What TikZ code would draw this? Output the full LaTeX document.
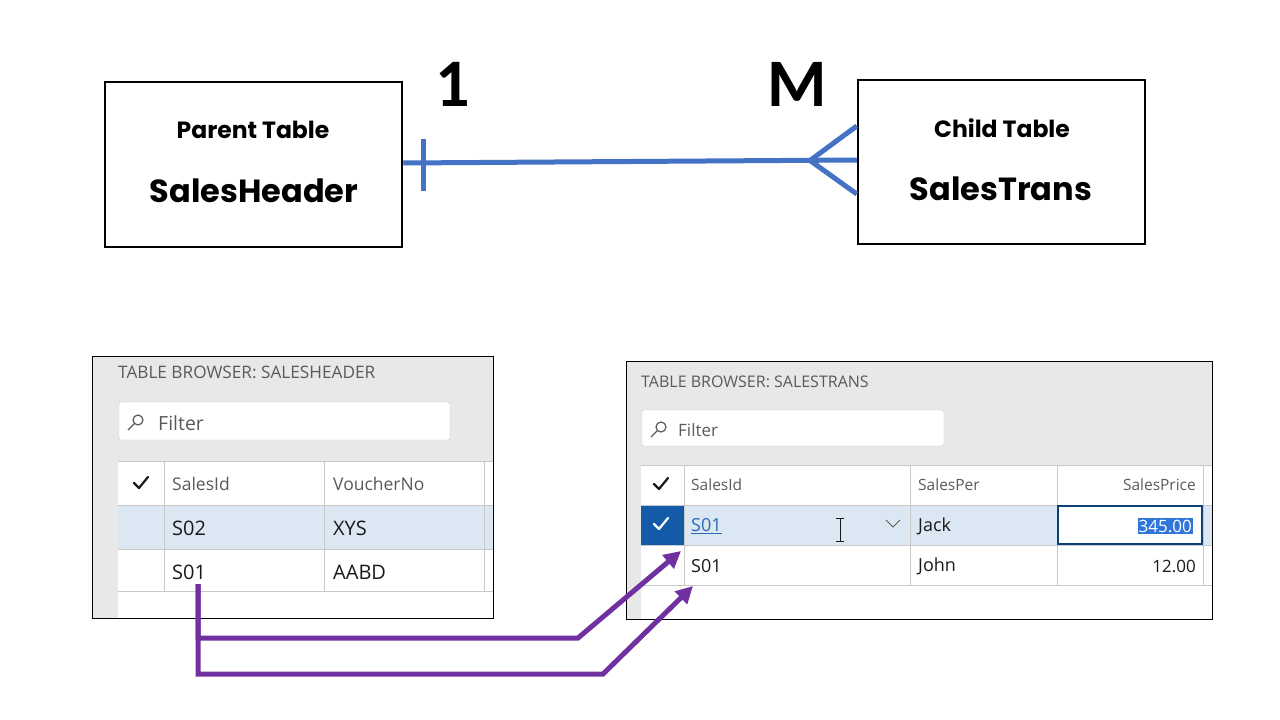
\documentclass[tikz,border=0pt]{standalone}
\usepackage{fontspec}
\setmainfont{Poppins}
\newfontfamily\uifont{Open Sans}
\newfontfamily\cardfont{Carlito}
\usetikzlibrary{positioning,arrows.meta,calc}
\usepackage{xcolor}
\definecolor{relblue}{HTML}{4472C4}
\definecolor{linkpurple}{HTML}{7030A0}
\definecolor{panelgray}{HTML}{E8E8E8}
\definecolor{gridgray}{HTML}{C9C9C9}
\definecolor{rowblue}{HTML}{DCE7F4}
\definecolor{selblue}{HTML}{135BA9}
\definecolor{hiblue}{HTML}{2F76D8}
\definecolor{uriblue}{HTML}{2C6AB5}
\definecolor{captxt}{HTML}{5A5A5A}
\definecolor{celltxt}{HTML}{1A1A1A}

\tikzset{
  entity/.style={draw, line width=2.5pt, minimum width=297pt, minimum height=165pt},
  ttl/.style={font=\bfseries\fontsize{23.5}{28}\selectfont, inner sep=0pt},
  tname/.style={font=\bfseries\fontsize{32}{38}\selectfont, inner sep=0pt},
  card/.style={font=\cardfont\bfseries\fontsize{68}{72}\selectfont, inner sep=0pt},
  rel/.style={relblue, line width=5pt},
  caption/.style={anchor=west, inner sep=0pt, text=captxt, font=\uifont\fontsize{16}{19}\selectfont},
  hdr/.style={anchor=west, inner sep=0pt, text=captxt, font=\uifont\fontsize{15.5}{18}\selectfont},
  cell/.style={anchor=west, inner sep=0pt, text=celltxt, font=\uifont\fontsize{18}{21}\selectfont},
  big/.style={font=\uifont\fontsize{#1}{#1}\selectfont},
  filterbox/.style={draw=gridgray, fill=white, rounded corners=1.5pt},
  grid/.style={draw=gridgray, line width=0.8pt},
  tick/.style={line width=2.2pt, line cap=round, line join=round},
  link/.style={linkpurple, line width=5pt, -{Triangle[length=17pt, width=17pt]}}
}

\begin{document}
\begin{tikzpicture}[x=1pt, y=-1pt]
\useasboundingbox (0,0) rectangle (1280,720);

% Entity boxes
\node[entity] (parent) at (253.5,164.5) {};
\node[ttl] (parentT) at (253,130) {Parent Table};
\node[tname] (parentN) at (254,191) {SalesHeader};
\node[entity, minimum width=287pt, minimum height=164pt] (child) at (1001.5,162) {};
\node[ttl] (childT) at (1002,128) {Child Table};
\node[tname] (childN) at (1001,189) {SalesTrans};

% Cardinalities
\node[card] (one) at (453,84) {1};
\node[card] (many) at (797,84) {M};

% One-to-many relation
\coordinate (relL) at (parent.east |- 0,163);
\coordinate (relR) at (child.west |- 0,160);
\coordinate (fork) at (810,160.5);
\draw[rel] (relL) -- (relR);
\draw[rel] (423,139) -- (423,191);
\draw[rel] (child.west |- 0,126) -- (fork) -- (child.west |- 0,194);

% Table browser: SalesHeader
\fill[panelgray] (92,356) rectangle (493,618);
\fill[white] (118,461) rectangle (493,618);
\fill[rowblue] (118,505) rectangle (493,549);
\draw[grid] (118,461) -- (493,461);
\foreach \y in {505,549,591} {
  \draw[grid] (118,\y) -- (493,\y);
}
\foreach \x in {164,324,484} {
  \draw[grid] (\x,461) -- (\x,591);
}
\node[caption, big=17.2] (hCap) at (118,372) {TABLE BROWSER: SALESHEADER};
\node[filterbox, minimum width=331pt, minimum height=38pt] (hFilter) at (284.5,421) {};
\draw[captxt, line width=1.2pt] (138,420) circle (5pt) (134.5,423.5) -- (128,430);
\node[cell, text=captxt, big=19.5] (hFilterT) at (158,423) {Filter};
\draw[tick, celltxt] (134,483) -- (139,488) -- (148,477);
\node[hdr, big=17.5] (hSid) at (172,484) {SalesId};
\node[hdr, big=17.5] (hVno) at (333,484) {VoucherNo};
\node[cell, big=20] (hS02) at (172,528) {S02};
\node[cell, big=20] (hXys) at (333,528) {XYS};
\node[cell, big=20] (hS01) at (172,572) {S01};
\node[cell, big=20] (hAabd) at (333,572) {AABD};
\draw[black, line width=0.8pt] (92,356) rectangle (493,618);

% Table browser: SalesTrans
\fill[panelgray] (626,361) rectangle (1212,619);
\fill[white] (641,465) rectangle (1212,619);
\fill[rowblue] (684,505) rectangle (1212,545);
\fill[selblue] (641,505) rectangle (684,545);
\draw[grid] (641,465) -- (1212,465);
\foreach \y in {505,545,585} {
  \draw[grid] (641,\y) -- (1212,\y);
}
\foreach \x in {684,910,1057,1203} {
  \draw[grid] (\x,465) -- (\x,585);
}
\node[caption] (tCap) at (641,382) {TABLE BROWSER: SALESTRANS};
\node[filterbox, minimum width=302pt, minimum height=36pt] (tFilter) at (793,428) {};
\draw[captxt, line width=1.2pt] (661,427) circle (5pt) (657.5,430.5) -- (651,437);
\node[cell, text=captxt, big=17] (tFilterT) at (678,430) {Filter};
\draw[tick, celltxt] (654,484) -- (659,489) -- (668,478);
\node[hdr] (tSid) at (691,485) {SalesId};
\node[hdr] (tSper) at (918,485) {SalesPer};
\node[hdr, anchor=east] (tSprice) at (1196,485) {SalesPrice};
% current row
\draw[tick, white] (654,524) -- (659,529) -- (668,518);
\node[cell, text=uriblue] (tS01a) at (691,526) {\underline{S01}};
\draw[celltxt, line width=1pt] (840,518) -- (840,541) (836,518) -- (844,518) (836,541) -- (844,541);
\draw[captxt, line width=1pt] (886,520) -- (893,527) -- (900,520);
\node[cell] (tJack) at (918,526) {Jack};
\draw[fill=white, draw=selblue!70!black, line width=1.2pt] (1058,506) rectangle (1202,544);
\node[cell, anchor=east, fill=hiblue, text=white, inner xsep=1pt, inner ysep=2pt, big=17] (tPrice1) at (1193,526) {345.00};
% second row
\node[cell] (tS01b) at (691,566) {S01};
\node[cell] (tJohn) at (918,566) {John};
\node[cell, anchor=east, big=17] (tPrice2) at (1196,566) {12.00};
\draw[black, line width=0.8pt] (626,361) rectangle (1212,619);

% Matching SalesId links
\coordinate (src) at (198,584);
\coordinate (bendA) at (578,638);
\coordinate (bendB) at (603,674);
\coordinate (tipA) at (681,551);
\coordinate (tipB) at (693,586);
\draw[link] (src) |- (bendA) -- (tipA);
\draw[link] (src) |- (bendB) -- (tipB);
\end{tikzpicture}
\end{document}
